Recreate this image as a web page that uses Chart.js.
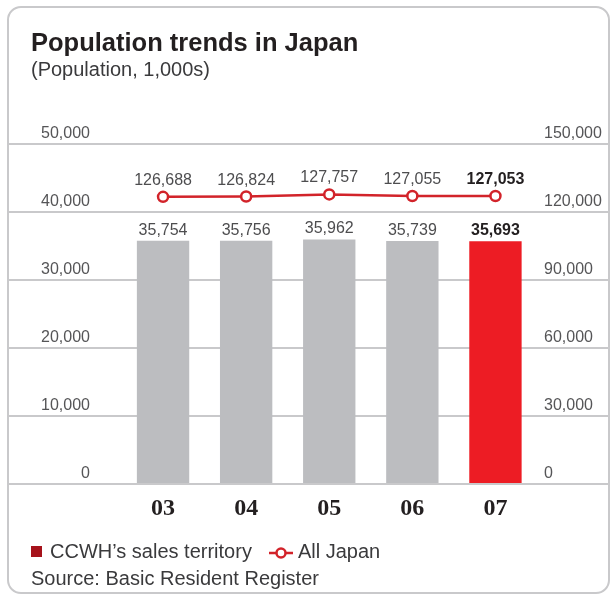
<!DOCTYPE html>
<html>
<head>
<meta charset="utf-8">
<script src="https://cdn.jsdelivr.net/npm/chart.js@4/dist/chart.umd.min.js"></script>
<style>
  html, body { margin: 0; padding: 0; background: #fff; }
  #wrap { position: relative; width: 610px; height: 596px; overflow: hidden; font-family: "Liberation Sans", Arial, sans-serif; }
  #frame { position: absolute; left: 7px; top: 6px; width: 603px; height: 588px; border: 2.5px solid #c9c9cb; border-radius: 14px; box-sizing: border-box; }
  #chart { position: absolute; left: 0; top: 0; }
  .txt { position: absolute; white-space: nowrap; color: #231f20; line-height: 1; }
  #title { left: 31px; top: 30px; font-size: 25.5px; font-weight: bold; }
  #subtitle { left: 31px; top: 59px; font-size: 20px; color: #3a3a3c; }
  #legend { left: 31px; top: 541px; font-size: 20px; color: #3a3a3c; }
  #source { left: 31px; top: 568px; font-size: 20px; color: #3a3a3c; }
  .swatch { display: inline-block; width: 11px; height: 11px; background: #a6121b; margin-right: 8px; vertical-align: 1px; }
  .lineKey { display: inline-block; vertical-align: -2px; margin: 0 5px 0 17px; }
</style>
</head>
<body>
<div id="wrap">
  <div id="frame"></div>
  <canvas id="chart" width="610" height="596"></canvas>
  <div class="txt" id="title">Population trends in Japan</div>
  <div class="txt" id="subtitle">(Population, 1,000s)</div>
  <div class="txt" id="legend"><span class="swatch"></span>CCWH’s sales territory<svg class="lineKey" width="24" height="14"><line x1="0" y1="7" x2="24" y2="7" stroke="#d2232a" stroke-width="2.5"/><circle cx="12" cy="7" r="4.5" fill="#fff" stroke="#d2232a" stroke-width="2.5"/></svg>All Japan</div>
  <div class="txt" id="source">Source: Basic Resident Register</div>
</div>
<script>
  const years = ["03", "04", "05", "06", "07"];
  const territory = [35754, 35756, 35962, 35739, 35693];
  const allJapan = [126688, 126824, 127757, 127055, 127053];
  const leftTicks = [0, 10000, 20000, 30000, 40000, 50000];
  const rightTicks = [0, 30000, 60000, 90000, 120000, 150000];

  const GRAY = "#bcbdc0";
  const RED = "#ed1c24";
  const LINE_RED = "#d2232a";
  const GRID = "#c9c9cb";

  const fmt = (v) => v.toLocaleString("en-US");

  // value labels above each bar and point, latest year in bold
  const valueLabels = {
    id: "valueLabels",
    afterDatasetsDraw(chart) {
      const ctx = chart.ctx;
      chart.data.datasets.forEach((ds, i) => {
        const meta = chart.getDatasetMeta(i);
        meta.data.forEach((el, j) => {
          const last = j === ds.data.length - 1;
          ctx.save();
          ctx.font = (last ? "bold " : "") + '16px "Liberation Sans", Arial, sans-serif';
          ctx.fillStyle = last ? "#231f20" : "#4d4d4f";
          ctx.textAlign = "center";
          ctx.textBaseline = "alphabetic";
          ctx.fillText(fmt(ds.data[j]), el.x, el.y - ds.labelGap);
          ctx.restore();
        });
      });
    },
  };

  const tickFont = { family: '"Liberation Sans", Arial, sans-serif', size: 16 };

  new Chart(document.getElementById("chart"), {
    data: {
      labels: years,
      datasets: [
        {
          type: "line",
          label: "All Japan",
          data: allJapan,
          yAxisID: "y1",
          borderColor: LINE_RED,
          borderWidth: 2.5,
          pointBackgroundColor: "#fff",
          pointBorderColor: LINE_RED,
          pointBorderWidth: 2.5,
          pointRadius: 5,
          tension: 0,
          labelGap: 12,
          order: 0,
        },
        {
          type: "bar",
          label: "CCWH’s sales territory",
          data: territory,
          yAxisID: "y",
          backgroundColor: territory.map((_, i) => (i === territory.length - 1 ? RED : GRAY)),
          categoryPercentage: 1,
          barPercentage: 0.63,
          labelGap: 6,
          order: 1,
        },
      ],
    },
    options: {
      responsive: false,
      devicePixelRatio: 1,
      animation: false,
      layout: { padding: { left: 8, right: 0, top: 144, bottom: 72 } },
      plugins: { legend: { display: false }, tooltip: { enabled: false } },
      scales: {
        x: {
          grid: { display: false },
          border: { display: false },
          ticks: {
            padding: 2,
            color: "#231f20",
            font: { family: '"Liberation Serif", "Times New Roman", serif', size: 24, weight: "bold" },
          },
          afterFit: (s) => { s.height = 40; },
        },
        y: {
          position: "left",
          min: 0,
          max: 50000,
          afterBuildTicks: (s) => { s.ticks = leftTicks.map((v) => ({ value: v })); },
          border: { display: false },
          grid: { color: GRID, lineWidth: 2, tickLength: 114, tickColor: GRID },
          ticks: { padding: -82.5, labelOffset: -10, color: "#555557", font: tickFont, callback: (v) => fmt(v) },
          afterFit: (s) => { s.width = 113.5; },
        },
        y1: {
          position: "right",
          min: 0,
          max: 150000,
          afterBuildTicks: (s) => { s.ticks = rightTicks.map((v) => ({ value: v })); },
          border: { display: false },
          grid: { drawOnChartArea: false, color: GRID, lineWidth: 2, tickLength: 73, tickColor: GRID },
          ticks: { padding: -66, labelOffset: -10, color: "#555557", font: tickFont, callback: (v) => fmt(v) },
          afterFit: (s) => { s.width = 73; },
        },
      },
    },
    plugins: [valueLabels],
  });
</script>
</body>
</html>
